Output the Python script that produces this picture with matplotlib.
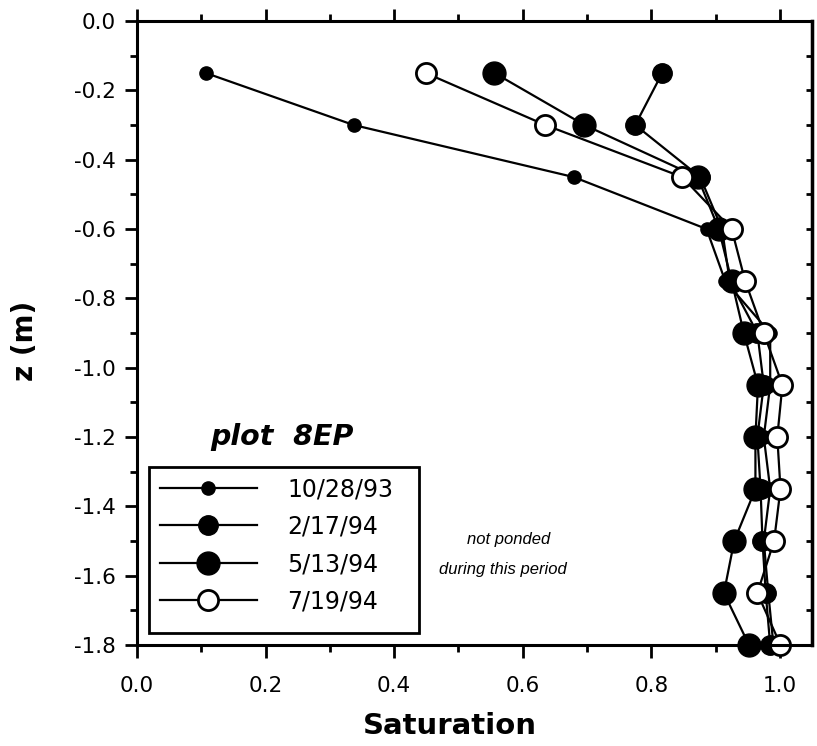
import numpy as np
import matplotlib
matplotlib.use('Agg')
import matplotlib.pyplot as plt
from matplotlib.ticker import MultipleLocator, FormatStrFormatter
from matplotlib.patches import Rectangle

depth = [-0.15, -0.30, -0.45, -0.60, -0.75, -0.90, -1.05, -1.20, -1.35, -1.50, -1.65, -1.80]

# saturation profiles, plot 8EP
sat_102893 = [0.107, 0.337, 0.679, 0.886, 0.915, 0.985, 0.985, 0.975, 0.985, 0.975, 0.982, 0.99]
sat_021794 = [0.817, 0.775, 0.876, 0.91, 0.922, 0.965, 0.975, 0.965, 0.97, 0.973, 0.978, 0.985]
sat_051394 = [0.556, 0.696, 0.872, 0.905, 0.925, 0.944, 0.966, 0.962, 0.962, 0.929, 0.913, 0.952]
sat_071994 = [0.449, 0.635, 0.848, 0.925, 0.946, 0.975, 1.004, 0.996, 1.001, 0.991, 0.965, 1.001]

labels = ['10/28/93', '2/17/94', '5/13/94', '7/19/94']

fig = plt.figure(figsize=(8.17, 7.46), dpi=100)
ax = fig.add_axes([137/817, 101/746, 675/817, 624/746])

ax.plot(sat_102893, depth, 'k-', marker='o', ms=9.5, lw=1.6, label=labels[0], clip_on=False)
ax.plot(sat_021794, depth, 'k-', marker='o', ms=14, lw=1.6, label=labels[1], clip_on=False)
ax.plot(sat_051394, depth, 'k-', marker='o', ms=16.5, lw=1.6, label=labels[2], clip_on=False)
ax.plot(sat_071994, depth, 'k-', marker='o', ms=14.5, lw=1.6, mfc='white', mec='black', mew=2,
        label=labels[3], clip_on=False)

ax.set_xlim(0, 1.05)
ax.set_ylim(-1.8, 0)
ax.xaxis.set_major_locator(MultipleLocator(0.2))
ax.xaxis.set_minor_locator(MultipleLocator(0.1))
ax.yaxis.set_major_locator(MultipleLocator(0.2))
ax.yaxis.set_minor_locator(MultipleLocator(0.1))
ax.xaxis.set_major_formatter(FormatStrFormatter('%.1f'))
ax.yaxis.set_major_formatter(FormatStrFormatter('%.1f'))

ax.tick_params(axis='x', which='both', direction='out', top=True, width=2, labelsize=15.5, pad=13)
ax.tick_params(axis='x', which='major', length=9)
ax.tick_params(axis='x', which='minor', length=5)
ax.tick_params(axis='y', which='both', direction='out', right=False, width=2, labelsize=15.5, pad=6)
ax.tick_params(axis='y', which='major', length=9)
ax.tick_params(axis='y', which='minor', length=5)

# inward ticks on the right side
sec = ax.secondary_yaxis('right')
sec.yaxis.set_major_locator(MultipleLocator(0.1))
sec.tick_params(direction='in', length=4, width=2, labelright=False)
sec.spines['right'].set_linewidth(2.5)

for s in ax.spines.values():
    s.set_linewidth(2.2)

ax.set_xlabel('Saturation', fontsize=21, fontweight='bold')
ax.xaxis.set_label_coords(0.464, -0.108)
ax.set_ylabel('z (m)', fontsize=20, fontweight='bold')
ax.yaxis.set_label_coords(-0.145, 0.487)

ax.text(0.225, -1.223, 'plot  8EP', fontsize=20.5, fontweight='bold', fontstyle='italic',
        ha='center', va='baseline')

leg = ax.legend(loc='upper left', bbox_to_anchor=(0.034, 0.269), borderaxespad=0,
                fontsize=17, handlelength=4.1, handletextpad=1.3, labelspacing=0.57,
                borderpad=0, frameon=False)
ax.add_patch(Rectangle((0.0178, 0.0192), 0.400, 0.266, transform=ax.transAxes,
                       fill=False, lw=2, ec='black', clip_on=False, zorder=5))

note_font = ['Liberation Sans Narrow', 'Liberation Sans', 'DejaVu Sans']
ax.text(0.578, -1.497, 'not ponded', fontsize=12, fontstyle='italic', ha='center', va='center',
        family=note_font)
ax.text(0.569, -1.583, 'during this period', fontsize=12, fontstyle='italic', ha='center', va='center',
        family=note_font)

plt.savefig('out.png', dpi=100)
